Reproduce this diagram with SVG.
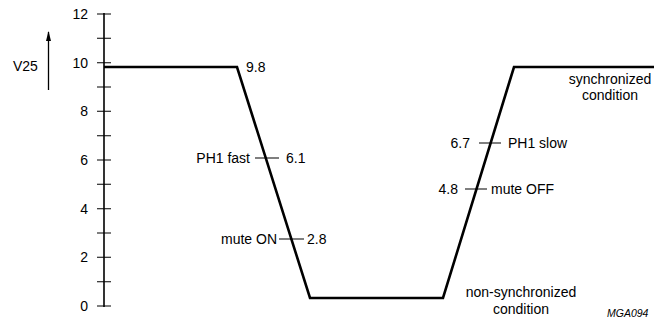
<svg xmlns="http://www.w3.org/2000/svg" width="654" height="325" viewBox="0 0 654 325">
<style>
text{font-family:"Liberation Sans",Arial,sans-serif;font-size:14px;fill:#000}
.ax{stroke:#000;stroke-width:1.6;fill:none}
.tk{stroke:#000;stroke-width:1.1;fill:none}
.tr{stroke:#000;stroke-width:2.6;fill:none;stroke-linejoin:miter}
.r{text-anchor:end}
.m{text-anchor:middle}
</style>
<defs>
<marker id="ah" markerWidth="10" markerHeight="6" refX="9" refY="3" orient="auto" markerUnits="userSpaceOnUse" viewBox="0 0 10 6">
<path d="M0,0.5 L10,3 L0,5.5 Z" fill="#000"/>
</marker>
</defs>
<g id="axis">
<line class="ax" x1="104" y1="13" x2="104" y2="307"/>
<path class="tk" d="M97,14H111M97,38.3H111M97,62.7H111M97,87H111M97,111.3H111M97,135.7H111M97,160H111M97,184.3H111M97,208.7H111M97,233H111M97,257.3H111M97,281.7H111M97,306H111"/>
<text class="r" x="88" y="19">12</text>
<text class="r" x="88" y="67.7">10</text>
<text class="r" x="88" y="116.3">8</text>
<text class="r" x="88" y="165">6</text>
<text class="r" x="88" y="213.7">4</text>
<text class="r" x="88" y="262.3">2</text>
<text class="r" x="88" y="311">0</text>
</g>
<g id="ylabel">
<text x="13" y="71">V25</text>
<line x1="48.5" y1="90" x2="48.5" y2="32" stroke="#000" stroke-width="1.3" marker-end="url(#ah)"/>
</g>
<g id="connectors">
<polyline class="tr" points="104,67 237,67 310,298 443,298 514,67 654,67"/>
<path class="tk" d="M255,158H279M279,239H304M479,143H501M465,189H487"/>
</g>
<g id="labels">
<text x="246" y="72">9.8</text>
<text class="r" x="250" y="163">PH1 fast</text>
<text x="286" y="163">6.1</text>
<text class="r" x="277" y="244">mute ON</text>
<text x="307" y="244">2.8</text>
<text class="r" x="470" y="148">6.7</text>
<text x="508" y="148">PH1 slow</text>
<text class="r" x="458" y="194">4.8</text>
<text x="491" y="194">mute OFF</text>
<text class="m" x="610" y="84">synchronized</text>
<text class="m" x="610" y="100">condition</text>
<text class="m" x="521" y="297">non-synchronized</text>
<text class="m" x="521" y="314">condition</text>
<text x="607" y="317" style="font-size:10.5px;font-style:italic">MGA094</text>
</g>
</svg>
